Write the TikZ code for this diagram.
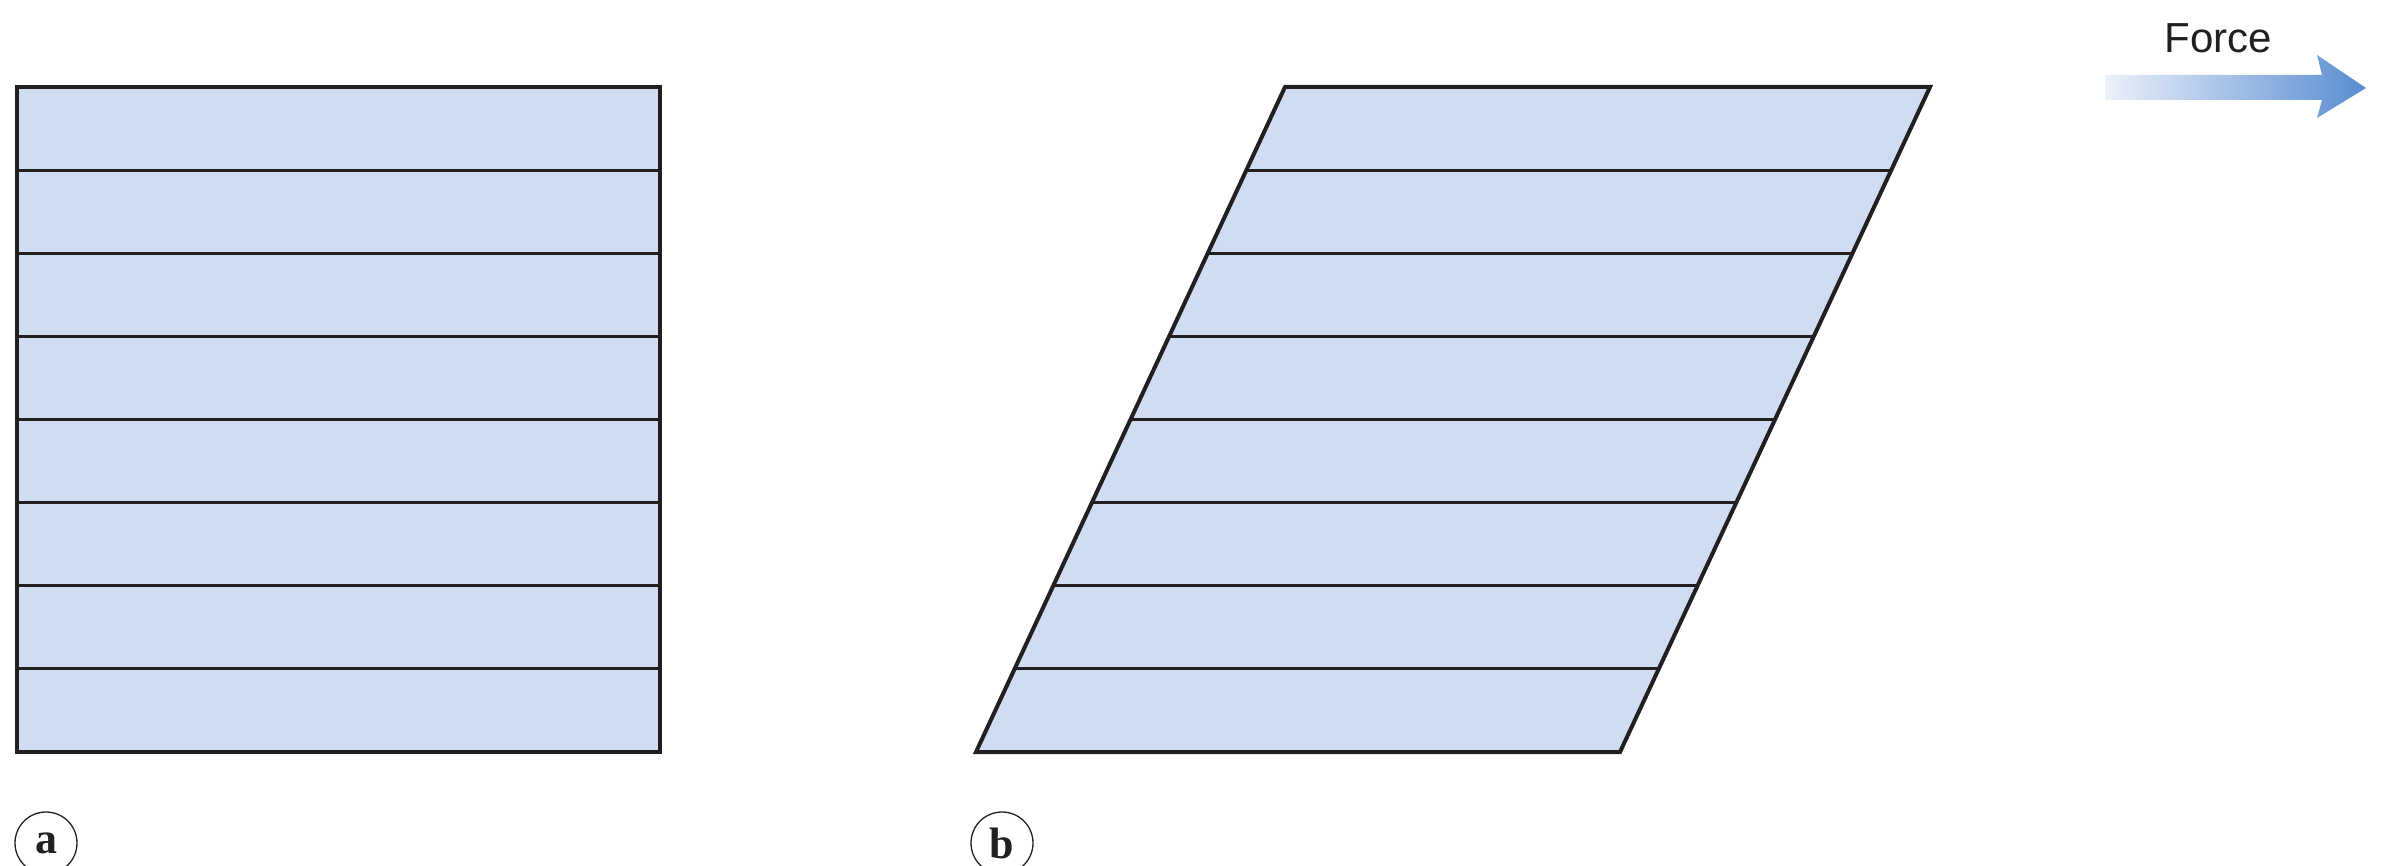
\documentclass[tikz,border=0pt]{standalone}
\usepackage{fontspec}
\usetikzlibrary{calc}
\setmainfont{Liberation Serif}
\newfontfamily\forcefont{Liberation Sans}
\definecolor{layerfill}{RGB}{208,220,242}
\definecolor{outline}{RGB}{35,31,32}
\definecolor{arrowdark}{RGB}{88,140,208}
\definecolor{arrowlight}{RGB}{236,241,250}
\tikzset{
  outer/.style={draw=outline, line width=4pt, line join=miter, fill=layerfill},
  layer/.style={draw=outline, line width=3pt},
  tag/.style={circle, draw=outline, line width=1.3pt, minimum size=62pt, inner sep=0pt,
              font=\fontsize{44}{44}\selectfont\bfseries, text=outline},
}
\begin{document}
\begin{tikzpicture}[x=1pt,y=-1pt]
\useasboundingbox (0,0) rectangle (2384,866);
% (a) rectangle
\coordinate (a1) at (17,87);
\coordinate (a2) at (660,87);
\coordinate (a3) at (660,752);
\coordinate (a4) at (17,752);
\draw[outer] (a1) -- (a2) -- (a3) -- (a4) -- cycle;
\foreach \i in {1,...,7} {
  \draw[layer] ($(a1)!\i/8!(a4)$) -- ($(a2)!\i/8!(a3)$);
}
% (b) parallelogram
\coordinate (b1) at (1285,87);
\coordinate (b2) at (1930,87);
\coordinate (b3) at (1620,752);
\coordinate (b4) at (976,752);
\draw[outer] (b1) -- (b2) -- (b3) -- (b4) -- cycle;
\foreach \i in {1,...,7} {
  \draw[layer] ($(b1)!\i/8!(b4)$) -- ($(b2)!\i/8!(b3)$);
}
% labels
\node[tag] (la) at (46,843) {\raisebox{-2pt}{a}};
\node[tag] (lb) at (1002,843) {\raisebox{-2pt}{b}};
% force arrow
\shade[left color=arrowlight, right color=arrowdark]
  (2105,75) -- (2322,75) -- (2317,55) -- (2366,88) -- (2317,118) -- (2322,100) -- (2105,100) -- cycle;
\node[font=\forcefont\fontsize{42}{42}\selectfont, text=outline, anchor=base] (force) at (2218,53) {Force};
\end{tikzpicture}
\end{document}
